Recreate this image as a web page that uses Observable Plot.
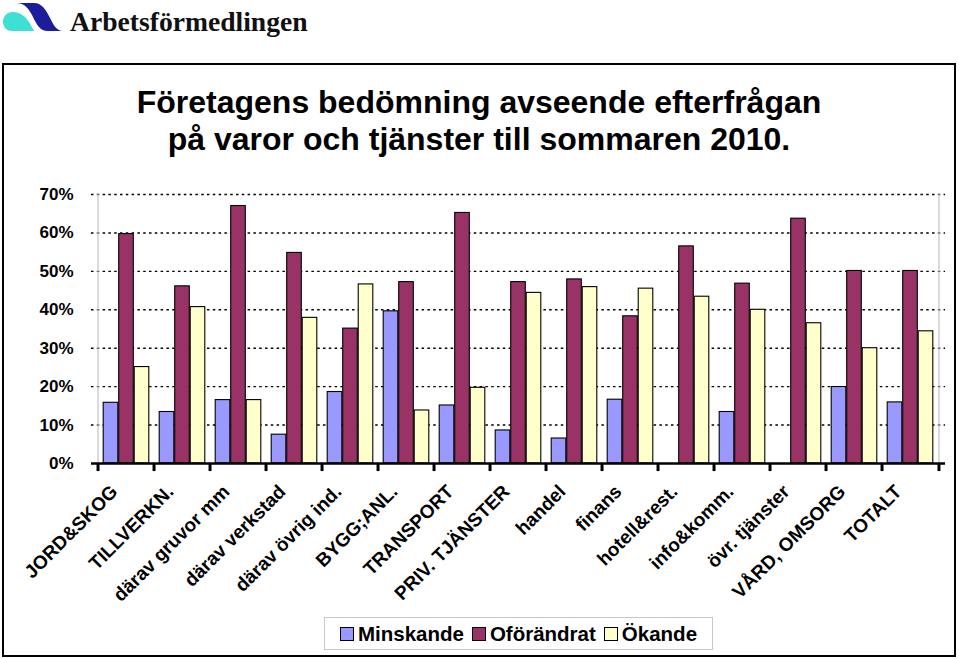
<!DOCTYPE html>
<html><head><meta charset="utf-8">
<script src="https://cdn.jsdelivr.net/npm/d3@7"></script>
<script src="https://cdn.jsdelivr.net/npm/@observablehq/plot@0.6"></script>
<style>
body{margin:0;background:#fff;}
#wrap{position:relative;width:959px;height:659px;overflow:hidden;font-family:"Liberation Sans",Arial,sans-serif;color:#000;}
#frame{position:absolute;left:2px;top:63px;width:954px;height:594px;border:2.5px solid #000;box-sizing:border-box;}
#logo{position:absolute;left:0;top:0;}
#title{position:absolute;left:3px;width:952px;top:84px;text-align:center;font-weight:bold;font-size:32px;line-height:37px;}
#chart{position:absolute;left:0;top:0;}
#legend{position:absolute;left:324px;top:617px;width:389px;height:33px;border:1px solid #c8c8c8;box-sizing:border-box;display:flex;align-items:center;justify-content:center;font-weight:bold;font-size:20.5px;gap:8px;background:#fff;}
#legend .it{display:flex;align-items:center;gap:4px;}
#legend .sw{width:14px;height:14px;border:1px solid #000;box-sizing:border-box;}
</style>
</head><body>
<div id="wrap">
  <svg id="logo" width="320" height="45">
    <path d="M 12 31 C 0 31 0 13 12 12 C 22 11 29 20 34 31 Z" fill="#3de0d2"/>
    <path d="M 16 3 L 34 3 C 42 3 46 10 50 18 C 54 26 57 31 63 31 L 48 31 C 40 31 37 25 33 17 C 29 9 25 3 16 3 Z" fill="#1c1c9c"/>
    <text x="70" y="31" font-family="'Liberation Serif','Times New Roman',serif" font-weight="bold" font-size="27.6" fill="#111">Arbetsförmedlingen</text>
  </svg>
  <div id="frame"></div>
  <div id="title">Företagens bedömning avseende efterfrågan<br>på varor och tjänster till sommaren 2010.</div>
  <div id="chart"></div>
  <div id="legend"></div>
</div>
<script>
const categories = ["JORD&SKOG","TILLVERKN.","därav gruvor mm","därav verkstad","därav övrig ind.","BYGG;ANL.","TRANSPORT","PRIV. TJÄNSTER","handel","finans","hotell&rest.","info&komm.","övr. tjänster","VÅRD, OMSORG","TOTALT"];
const minskande  = [15.8,13.4,16.5,7.5,18.6,39.6,15.1,8.6,6.5,16.6,0,13.4,0,19.9,15.9];
const oforandrat = [59.7,46.1,67.0,54.8,35.1,47.2,65.2,47.2,47.9,38.3,56.5,46.8,63.7,50.1,50.1];
const okande     = [25.1,40.7,16.5,37.9,46.6,13.8,19.7,44.4,45.9,45.5,43.4,40.0,36.5,30.0,34.4];
const seriesNames = ["Minskande","Oförändrat","Ökande"];
const seriesColors = ["#9999FF","#993366","#FFFFCC"];
const yTicks = [0,10,20,30,40,50,60,70];

const series = [minskande, oforandrat, okande];
const rows = categories.map((c, i) => ({cat: c, vals: series.map(s => s[i])}));

const W = 959, H = 659, ML = 91, MR = 14, MT = 194, MB = 196;
const bw = (W - ML - MR) / categories.length;
const groupFrac = 0.817;
const pad = bw * (1 - groupFrac) / 2;
const barW = bw * groupFrac / 3;

const barMarks = series.map((s, k) => Plot.barY(rows, {
  x: "cat", y: d => d.vals[k], fill: seriesColors[k], stroke: "#000", strokeWidth: 1.1,
  insetLeft: pad + k * barW, insetRight: bw - pad - (k + 1) * barW
}));

const plot = Plot.plot({
  width: W, height: H,
  marginLeft: ML, marginRight: MR, marginTop: MT, marginBottom: MB,
  style: {background: "transparent", fontFamily: "'Liberation Sans', Arial, sans-serif", color: "#000", overflow: "visible"},
  x: {type: "band", domain: categories, padding: 0},
  y: {domain: [0, 70]},
  marks: [
    Plot.ruleY(yTicks.slice(1), {stroke: "#000", strokeWidth: 1.4, strokeDasharray: "2.5,3.3"}),
    Plot.ruleX([categories[0]], {dx: -bw / 2, y1: 0, y2: 70, stroke: "#c4c4c4", strokeWidth: 1.2}),
    Plot.ruleX([categories[categories.length - 1]], {dx: bw / 2, y1: 0, y2: 70, stroke: "#c4c4c4", strokeWidth: 1.2}),
    ...barMarks,
    Plot.ruleY([0], {stroke: "#000", strokeWidth: 2.5}),
    Plot.ruleX(categories, {dx: -bw / 2, y1: 0, y2: -2.1, stroke: "#000", strokeWidth: 3}),
    Plot.ruleX([categories[categories.length - 1]], {dx: bw / 2, y1: 0, y2: -2.1, stroke: "#000", strokeWidth: 3}),
    Plot.axisY({ticks: yTicks, tickFormat: d => d + "%", tickSize: 0, tickPadding: 18, fontSize: 17, fontWeight: "bold", label: null}),
    Plot.axisX({tickRotate: -45, tickSize: 0, tickPadding: 25, dx: -12, fontSize: 19, fontWeight: "bold", label: null, textOverflow: null, lineWidth: Infinity})
  ]
});
document.getElementById("chart").appendChild(plot);

const leg = document.getElementById("legend");
seriesNames.forEach((n, k) => {
  const it = document.createElement("div"); it.className = "it";
  const sw = document.createElement("div"); sw.className = "sw"; sw.style.background = seriesColors[k];
  const tx = document.createElement("span"); tx.textContent = n;
  it.appendChild(sw); it.appendChild(tx); leg.appendChild(it);
});
</script>
</body></html>
